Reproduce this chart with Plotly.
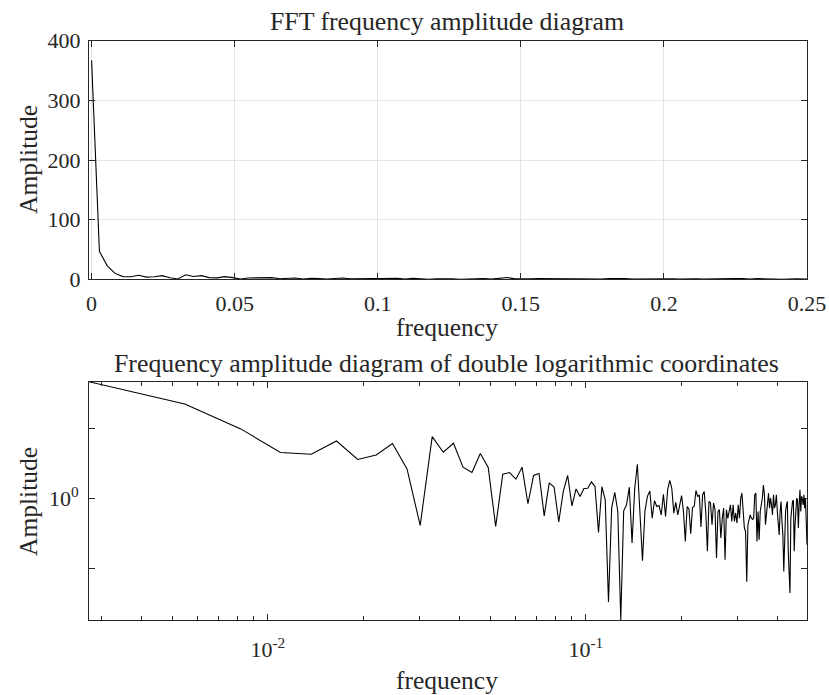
import math
import plotly.graph_objects as go

# ---------------- data ----------------
n_fft = 365
k_index = list(range(0, 182))
amplitude = [
    367, 46.9, 22.5, 9.9, 4.54, 4.29, 6.65, 3.61, 4.2, 6.1,
    2.65, 0.411, 7.69, 4.59, 6.17, 2.8, 2.35, 4.39, 2.77, 0.398,
    2.22, 2.35, 1.89, 2.8, 0.84, 2.13, 2.28, 0.564, 1.67, 1.46,
    0.463, 1.26, 2.13, 0.784, 1.37, 1.07, 1.39, 1.4, 1.73, 1.48,
    0.327, 1.47, 0.955, 0.033, 0.727, 1.22, 0.652, 0.0182, 0.665, 0.81,
    1.45, 0.23, 1.40, 3.09, 0.652, 0.128, 0.665, 1.07, 1.28, 0.523,
    0.925, 0.768, 0.79, 0.583, 1.15, 0.552, 1.33, 1.82, 1.40, 0.617,
    0.877, 0.583, 0.794, 1.10, 0.652, 0.243, 0.768, 0.703, 0.312, 0.743,
    0.768, 1.30, 1.06, 1.13, 0.39, 1.13, 1.26, 0.62, 0.175, 0.905,
    0.86, 0.42, 0.86, 0.69, 0.14, 0.652, 0.69, 0.271, 0.523, 0.727,
    0.133, 0.69, 0.52, 0.65, 0.81, 0.47, 0.81, 0.47, 0.62, 0.445,
    0.81, 0.52, 1.01, 1.19, 0.52, 0.377, 0.337, 0.064, 0.42, 0.52,
    0.58, 0.52, 0.5, 0.52, 1.13, 1.19, 0.243, 0.65, 0.257, 0.65,
    0.81, 1.01, 1.56, 1.13, 0.42, 0.65, 0.81, 1.19, 0.727, 1.01,
    0.81, 0.58, 1.13, 0.727, 0.81, 1.13, 0.65, 0.47, 0.30, 0.65,
    0.905, 0.47, 0.30, 0.09, 0.42, 0.65, 0.81, 0.905, 0.175, 0.0585,
    0.0445, 0.52, 0.81, 0.905, 0.95, 0.175, 0.42, 0.81, 1.01, 0.95,
    0.377, 0.81, 1.33, 0.65, 1.07, 1.01, 0.81, 1.13, 0.727, 1.01,
    0.52, 0.218,
]
frequency = [k / n_fft for k in k_index]

top_xticks = [0, 0.05, 0.1, 0.15, 0.2, 0.25]
top_xticktext = ["0", "0.05", "0.1", "0.15", "0.2", "0.25"]
top_yticks = [0, 100, 200, 300, 400]
log_xticks = [0.01, 0.1]
log_xticktext = ["10<sup>-2</sup>", "10<sup>-1</sup>"]
log_xminor = [0.003, 0.004, 0.005, 0.006, 0.007, 0.008, 0.009,
              0.02, 0.03, 0.04, 0.05, 0.06, 0.07, 0.08, 0.09,
              0.2, 0.3, 0.4]
log_yticks = [0.1, 1, 10]
log_yticktext = ["", "10<sup>0</sup>", ""]

# ---------------- figure ----------------
W, H = 829, 695
FONT = "Liberation Serif"
INK = "#262626"

def px(x):
    return x / W

def py(y):
    return 1 - y / H

fig = go.Figure()
fig.add_trace(go.Scatter(x=frequency, y=amplitude, mode="lines",
                         line=dict(color="black", width=1.1),
                         xaxis="x", yaxis="y", showlegend=False))
fig.add_trace(go.Scatter(x=frequency[1:], y=amplitude[1:], mode="lines",
                         line=dict(color="black", width=1.1),
                         xaxis="x2", yaxis="y2", showlegend=False))

common = dict(showline=True, linecolor=INK, linewidth=1, mirror="allticks",
              ticks="inside", ticklen=6, tickcolor=INK, tickwidth=1,
              zeroline=False, automargin=False,
              tickfont=dict(family=FONT, size=22, color=INK))

xdom = [px(89), px(807)]
fig.update_layout(
    width=W, height=H,
    autosize=False,
    font=dict(family=FONT, size=22, color=INK),
    margin=dict(l=0, r=0, t=0, b=0, pad=0),
    paper_bgcolor="white", plot_bgcolor="white",
    xaxis=dict(domain=xdom, anchor="y", range=[-0.0009, 0.25],
               tickmode="array", tickvals=top_xticks, ticktext=top_xticktext,
               showgrid=True, gridcolor="#e3e3e3", gridwidth=1,
               ticklabelstandoff=4, **common),
    yaxis=dict(domain=[py(279.3), py(40.7)], anchor="x", range=[0, 400],
               tickmode="array", tickvals=top_yticks,
               showgrid=True, gridcolor="#e3e3e3", gridwidth=1,
               ticklabelstandoff=3, **common),
    xaxis2=dict(domain=xdom, anchor="y2", type="log",
                range=[math.log10(frequency[1]), math.log10(frequency[-1])],
                tickmode="array", tickvals=log_xticks, ticktext=log_xticktext,
                minor=dict(tickmode="array", tickvals=log_xminor, ticks="inside",
                           ticklen=4, tickcolor=INK, showgrid=False),
                showgrid=False, ticklabelstandoff=10, **common),
    yaxis2=dict(domain=[py(620), py(381.7)], anchor="x2", type="log",
                range=[math.log10(min(amplitude[1:])), math.log10(max(amplitude[1:]))],
                tickmode="array", tickvals=log_yticks, ticktext=log_yticktext,
                showgrid=False, ticklabelstandoff=5, **common),
)

ann = [
    dict(text="FFT frequency amplitude diagram", x=px(447), y=py(22), size=25.8),
    dict(text="frequency", x=px(447), y=py(327), size=25.5),
    dict(text="Frequency amplitude diagram of double logarithmic coordinates",
         x=px(447), y=py(363), size=25.8),
    dict(text="frequency", x=px(447), y=py(680), size=25.5),
]
for a in ann:
    fig.add_annotation(text=a["text"], x=a["x"], y=a["y"], xref="paper", yref="paper",
                       xanchor="center", yanchor="middle", showarrow=False,
                       font=dict(family=FONT, size=a["size"], color=INK))
for yc in (160, 502):
    fig.add_annotation(text="Amplitude", x=px(28), y=py(yc), xref="paper", yref="paper",
                       xanchor="center", yanchor="middle", showarrow=False, textangle=-90,
                       font=dict(family=FONT, size=25.5, color=INK))

fig.write_html("out.html")
